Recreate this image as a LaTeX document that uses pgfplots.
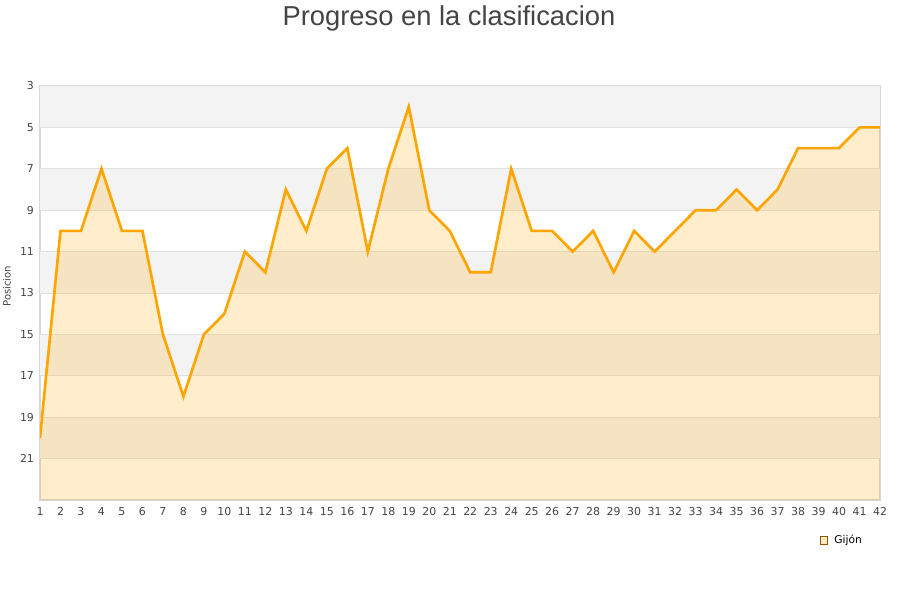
\documentclass[border=0pt]{standalone}
\usepackage{fontspec}
\setmainfont{DejaVu Sans}
\newfontfamily\titlefont{Liberation Sans}
\usepackage{pgfplots}
\pgfplotsset{compat=1.18}

\definecolor{lineorange}{HTML}{FFA500}
\definecolor{bandgray}{HTML}{F3F3F3}
\definecolor{gridgray}{HTML}{E0E0E0}
\definecolor{framegray}{HTML}{D8D8D8}
\definecolor{textgray}{HTML}{444444}

\pgfplotstableread{
jornada pos
1 20
2 10
3 10
4 7
5 10
6 10
7 15
8 18
9 15
10 14
11 11
12 12
13 8
14 10
15 7
16 6
17 11
18 7
19 4
20 9
21 10
22 12
23 12
24 7
25 10
26 10
27 11
28 10
29 12
30 10
31 11
32 10
33 9
34 9
35 8
36 9
37 8
38 6
39 6
40 6
41 5
42 5
}\gijon

\begin{document}
\begin{tikzpicture}
\path[use as bounding box] (0pt,0pt) rectangle (675pt,450pt);
\node[font=\titlefont\fontsize{20.5}{24}\selectfont, text=textgray] at (336.75pt,436.5pt) {Progreso en la clasificacion};
\begin{axis}[
    at={(30pt,75pt)}, anchor=south west,
    scale only axis,
    width=630pt, height=310.5pt,
    xmin=1, xmax=42, ymin=3, ymax=23,
    y dir=reverse,
    xtick={1,...,42},
    ytick={3,5,...,21},
    major tick length=0pt,
    axis line style={framegray, line width=0.8pt},
    tick label style={font=\fontsize{8.2}{9}\selectfont, text=textgray},
    /pgf/number format/assume math mode=true,
    xticklabel style={yshift=-2pt},
    yticklabel style={xshift=-1pt},
    ylabel={Posicion},
    ylabel style={font=\fontsize{7.5}{9}\selectfont, text=textgray},
    every axis y label/.append style={at={(ticklabel cs:0.5)}, xshift=5pt},
    legend style={at={(0.955,-0.097)}, anchor=center, draw=none, fill=none,
        font=\fontsize{8}{9}\selectfont, text=black, column sep=3pt},
    legend cell align=left,
]
% background bands and grid
\fill[bandgray] (axis cs:1,3) rectangle (axis cs:42,5);
\fill[bandgray] (axis cs:1,7) rectangle (axis cs:42,9);
\fill[bandgray] (axis cs:1,11) rectangle (axis cs:42,13);
\fill[bandgray] (axis cs:1,15) rectangle (axis cs:42,17);
\fill[bandgray] (axis cs:1,19) rectangle (axis cs:42,21);
\foreach \g in {5,7,...,21} {
    \edef\tmp{\noexpand\draw[gridgray, line width=0.6pt] (axis cs:1,\g) -- (axis cs:42,\g);}
    \tmp
}
\addplot[fill=lineorange, fill opacity=0.2, draw=none, forget plot]
    table[x=jornada, y=pos] {\gijon} -- (axis cs:42,23) -- (axis cs:1,23) -- cycle;
\addplot[lineorange, line width=2pt, forget plot] table[x=jornada, y=pos] {\gijon};
\addlegendimage{legend image code/.code={
    \draw[draw=lineorange!55!black, fill=lineorange!25, line width=0.4pt]
        (2pt,-2.8pt) rectangle (7.6pt,2.8pt);}}
\addlegendentry{Gijón}
\end{axis}
\end{tikzpicture}
\end{document}
